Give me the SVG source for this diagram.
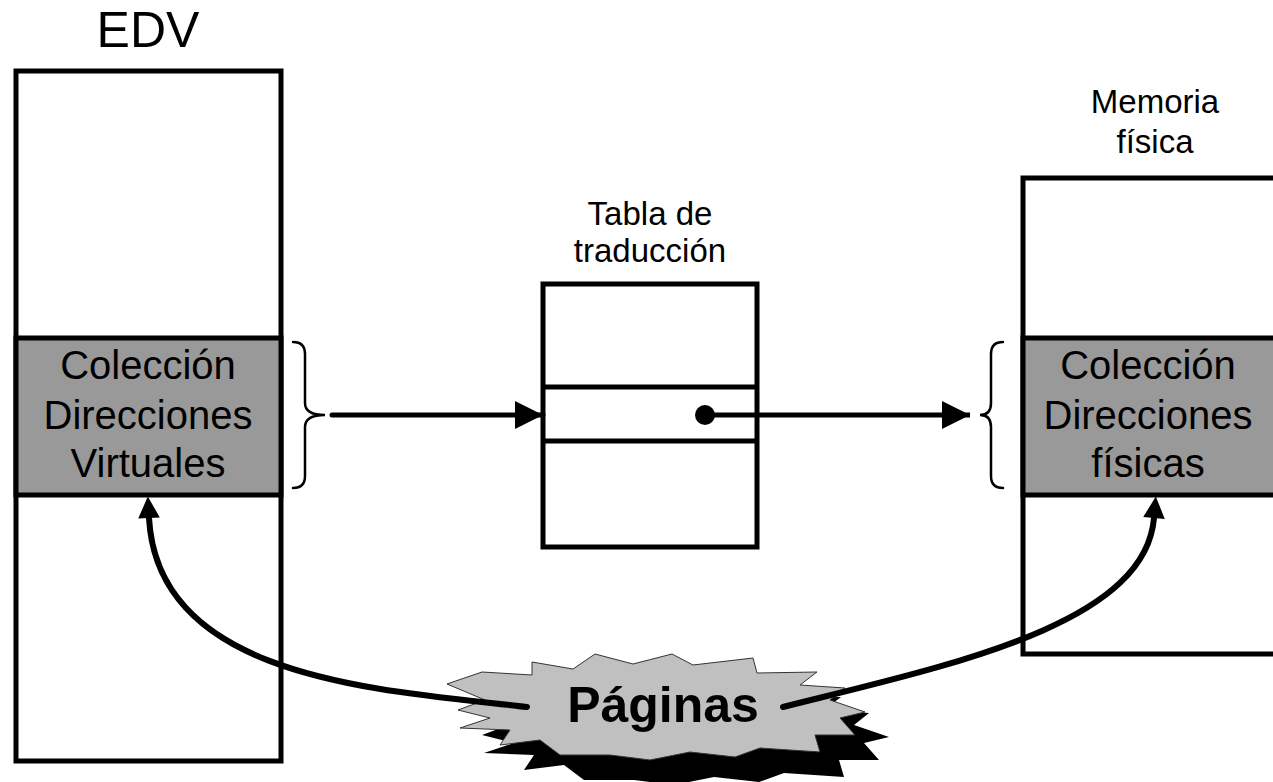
<svg xmlns="http://www.w3.org/2000/svg" width="1273" height="782" viewBox="0 0 1273 782">
<defs>
<style>
.box{fill:#fff;stroke:#000;stroke-width:5}
.band{fill:#999;stroke:#000;stroke-width:5}
.t{font-family:"Liberation Sans",Arial,sans-serif;fill:#000;text-anchor:middle}
.ln{fill:none;stroke:#000;stroke-width:5}
.cv{fill:none;stroke:#000;stroke-width:6;stroke-linecap:round}
.br{fill:none;stroke:#000;stroke-width:2.5;stroke-linecap:round}
</style>
<marker id="ah" viewBox="0 0 10 10" refX="10" refY="5" markerWidth="5.6" markerHeight="5.6" markerUnits="strokeWidth" orient="auto">
<path d="M0,0 L10,5 L0,10 Z" fill="#000"/>
</marker>
<marker id="ah2" viewBox="0 0 10 10" refX="0" refY="5" markerWidth="3.6" markerHeight="3.8" markerUnits="strokeWidth" orient="auto" overflow="visible">
<path d="M0,0 L10,5 L0,10 Z" fill="#000"/>
</marker>
</defs>
<rect width="1273" height="782" fill="#fff"/>
<g id="edv">
<text class="t" x="148" y="47" font-size="50">EDV</text>
<rect class="box" x="16" y="71" width="265" height="690"/>
<rect class="band" x="16" y="338" width="265" height="157"/>
<text class="t" x="148" y="379" font-size="40">Colección</text>
<text class="t" x="148" y="429" font-size="40">Direcciones</text>
<text class="t" x="148" y="477" font-size="40">Virtuales</text>
</g>
<g id="tabla">
<text class="t" x="650" y="225" font-size="33">Tabla de</text>
<text class="t" x="650" y="262" font-size="33">traducción</text>
<rect class="box" x="543" y="284" width="214" height="263"/>
<line class="ln" x1="543" y1="387" x2="757" y2="387"/>
<line class="ln" x1="543" y1="441" x2="757" y2="441"/>
</g>
<g id="memoria">
<text class="t" x="1155" y="113" font-size="33">Memoria</text>
<text class="t" x="1155" y="153" font-size="33">física</text>
<rect class="box" x="1023" y="178" width="280" height="476"/>
<rect class="band" x="1023" y="338" width="280" height="157"/>
<text class="t" x="1148" y="379" font-size="40">Colección</text>
<text class="t" x="1148" y="429" font-size="40">Direcciones</text>
<text class="t" x="1148" y="477" font-size="40">físicas</text>
</g>
<g id="paginas">
<polygon transform="translate(24,25)" fill="#000" points="447,684 482,672 532,675 532,662 573,669 595,654 633,664 672,654 693,665 753,658 757,673 817,672 800,685 845,688 830,700 865,712 840,718 855,735 815,735 820,752 760,748 735,757 690,752 650,760 610,755 560,755 540,740 500,745 510,730 460,728 490,718 458,710 485,700"/>
<polygon fill="#c0c0c0" stroke="#333" stroke-width="1" points="447,684 482,672 532,675 532,662 573,669 595,654 633,664 672,654 693,665 753,658 757,673 817,672 800,685 845,688 830,700 865,712 840,718 855,735 815,735 820,752 760,748 735,757 690,752 650,760 610,755 560,755 540,740 500,745 510,730 460,728 490,718 458,710 485,700"/>
<text class="t" x="663" y="722" font-size="50" font-weight="bold">Páginas</text>
</g>
<g id="connectors">
<path class="br" d="M293,342 Q305,342 305,354 L305,403 Q305,415 325,415 Q305,415 305,427 L305,476 Q305,488 293,488"/>
<path class="br" d="M1003,342 Q991,342 991,354 L991,403 Q991,415 980,415 Q991,415 991,427 L991,476 Q991,488 1003,488"/>
<line class="ln" x1="332" y1="415" x2="543" y2="415" marker-end="url(#ah)" stroke-linecap="round"/>
<circle cx="705" cy="415" r="10" fill="#000"/>
<line class="ln" x1="705" y1="415" x2="970" y2="415" marker-end="url(#ah)"/>
<path class="cv" d="M527,707 C380,690 158,680 149,518" stroke-linecap="butt" marker-end="url(#ah2)"/>
<path class="cv" d="M783,707 C950,665 1145,625 1154,518" stroke-linecap="butt" marker-end="url(#ah2)"/>
</g>
</svg>
